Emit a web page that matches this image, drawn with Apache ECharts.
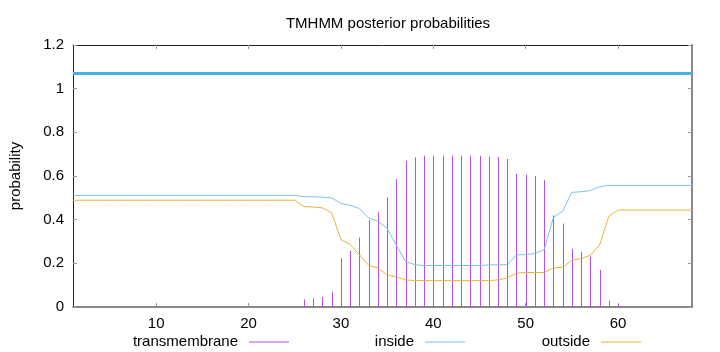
<!DOCTYPE html>
<html>
<head>
<meta charset="utf-8">
<script src="https://cdn.jsdelivr.net/npm/echarts@6/dist/echarts.min.js"></script>
<style>html,body{margin:0;padding:0;background:#fff}#c{width:720px;height:352px}</style>
</head>
<body>
<div id="c"></div>
<script>
// residues 1..68
const residues = [1,2,3,4,5,6,7,8,9,10,11,12,13,14,15,16,17,18,19,20,21,22,23,24,25,26,27,28,29,30,31,32,33,34,35,36,37,38,39,40,41,42,43,44,45,46,47,48,49,50,51,52,53,54,55,56,57,58,59,60,61,62,63,64,65,66,67,68];
const transmembrane = [0,0,0,0,0,0,0,0,0,0,0,0,0,0,0,0,0,0,0,0,0,0,0,0,0,
  0.035,0.04,0.046,0.07,0.223,0.257,0.318,0.40,0.434,0.502,0.586,0.67,0.685,0.693,
  0.693,0.693,0.693,0.693,0.693,0.692,0.688,0.687,0.678,0.61,0.606,0.60,0.581,0.42,
  0.382,0.266,0.252,0.231,0.17,0.028,0.012,0,0,0,0,0,0,0,0];
const inside = [0.511,0.511,0.511,0.511,0.511,0.511,0.511,0.511,0.511,0.511,0.511,0.511,0.511,0.511,0.511,0.511,0.511,0.511,0.511,0.511,0.511,0.511,0.511,0.511,0.511,
  0.505,0.505,0.503,0.500,0.474,0.466,0.451,0.408,0.393,0.36,0.283,0.208,0.194,0.19,
  0.19,0.19,0.19,0.19,0.19,0.19,0.193,0.193,0.194,0.239,0.24,0.245,0.263,0.41,
  0.439,0.525,0.528,0.533,0.551,0.557,0.557,0.557,0.557,0.557,0.557,0.557,0.557,0.557,0.557];
const outside = [0.489,0.489,0.489,0.489,0.489,0.489,0.489,0.489,0.489,0.489,0.489,0.489,0.489,0.489,0.489,0.489,0.489,0.489,0.489,0.489,0.489,0.489,0.489,0.489,0.489,
  0.46,0.458,0.454,0.431,0.309,0.286,0.24,0.191,0.179,0.147,0.138,0.124,0.121,0.121,
  0.121,0.121,0.121,0.121,0.121,0.121,0.121,0.124,0.133,0.155,0.158,0.158,0.158,0.179,
  0.182,0.214,0.222,0.237,0.283,0.416,0.444,0.444,0.444,0.444,0.444,0.444,0.444,0.444,0.444];
const topologyStart = 1, topologyEnd = 68, topologyLevel = 1.07;
const xTicks = [10,20,30,40,50,60];

const font = '"Liberation Sans", Arial, sans-serif';
const FS = 15;
const TM_COLOR = '#b44ee8';
const IN_COLOR = '#78c4ec';
const OUT_COLOR = '#eeb23a';
const pair = (arr) => arr.map((v, i) => [residues[i], v]);

const chart = echarts.init(document.getElementById('c'), null, {renderer: 'canvas'});
const legendBase = {
  orient: 'horizontal', top: 334.5, align: 'right', padding: 0,
  itemWidth: 40, itemHeight: 1, selectedMode: false, inactiveColor: '#ccc',
  textStyle: {fontSize: FS, color: '#000', fontFamily: font, padding: [0, 6, 0, 0]}
};
const legendItem = (name, color) => ({
  name: name,
  icon: 'rect',
  itemStyle: {color: color, borderWidth: 0, opacity: 1},
  lineStyle: {color: color, width: 1, opacity: 1}
});
chart.setOption({
  animation: false,
  backgroundColor: '#fff',
  title: {
    text: 'TMHMM posterior probabilities', left: 383, top: 11, textAlign: 'center',
    textStyle: {fontSize: FS, fontWeight: 'normal', color: '#000', fontFamily: font}
  },
  legend: [
    Object.assign({}, legendBase, {data: [legendItem('transmembrane', TM_COLOR)], right: 431}),
    Object.assign({}, legendBase, {data: [legendItem('inside', IN_COLOR)], right: 255}),
    Object.assign({}, legendBase, {data: [legendItem('outside', OUT_COLOR)], right: 79})
  ],
  grid: {left: 73, right: 28, top: 45, bottom: 45, containLabel: false},
  xAxis: [{
    type: 'value', min: 1, max: 68, position: 'bottom',
    axisLine: {show: true, onZero: false, lineStyle: {color: '#888', width: 2}},
    axisTick: {show: true, inside: true, length: 4, lineStyle: {color: '#999'}, customValues: xTicks},
    axisLabel: {show: true, margin: 9, fontSize: FS, color: '#000', fontFamily: font, customValues: xTicks},
    splitLine: {show: false}
  }, {
    type: 'value', min: 1, max: 68, position: 'top',
    axisLine: {show: true, onZero: false, lineStyle: {color: '#222', width: 1}},
    axisTick: {show: true, inside: true, length: 4, lineStyle: {color: '#999'}, customValues: xTicks},
    axisLabel: {show: false, customValues: xTicks},
    splitLine: {show: false}
  }],
  yAxis: [{
    type: 'value', min: 0, max: 1.2, interval: 0.2, position: 'left',
    name: 'probability', nameLocation: 'middle', nameGap: 50, nameRotate: 90,
    nameTextStyle: {fontSize: FS, color: '#000', fontFamily: font},
    axisLine: {show: true, onZero: false, lineStyle: {color: '#222', width: 1}},
    axisTick: {show: true, inside: true, length: 4, lineStyle: {color: '#999'}},
    axisLabel: {show: true, margin: 9, fontSize: FS, color: '#000', fontFamily: font},
    splitLine: {show: false}
  }, {
    type: 'value', min: 0, max: 1.2, interval: 0.2, position: 'right',
    axisLine: {show: true, onZero: false, lineStyle: {color: '#888', width: 2}},
    axisTick: {show: true, inside: true, length: 4, lineStyle: {color: '#999'}},
    axisLabel: {show: false},
    splitLine: {show: false}
  }],
  series: [
    {
      name: 'transmembrane', type: 'custom', xAxisIndex: 0, yAxisIndex: 0,
      itemStyle: {color: TM_COLOR},
      renderItem: function (params, api) {
        const v = api.value(1);
        if (!v) return null;
        const p0 = api.coord([api.value(0), 0]);
        const p1 = api.coord([api.value(0), v]);
        const x = Math.round(p0[0]) + 0.5;
        return {
          type: 'line',
          shape: {x1: x, y1: p0[1], x2: x, y2: p1[1]},
          style: {stroke: TM_COLOR, lineWidth: 1}
        };
      },
      encode: {x: 0, y: 1},
      data: pair(transmembrane), z: 2
    },
    {
      name: 'inside', type: 'line', xAxisIndex: 0, yAxisIndex: 0,
      showSymbol: false, symbol: 'none',
      lineStyle: {color: IN_COLOR, width: 1}, itemStyle: {color: IN_COLOR},
      data: pair(inside), z: 3
    },
    {
      name: 'outside', type: 'line', xAxisIndex: 0, yAxisIndex: 0,
      showSymbol: false, symbol: 'none',
      lineStyle: {color: OUT_COLOR, width: 1}, itemStyle: {color: OUT_COLOR},
      data: pair(outside), z: 3
    },
    {
      name: 'topology', type: 'line', xAxisIndex: 0, yAxisIndex: 0,
      showSymbol: false, symbol: 'none',
      lineStyle: {color: '#4aaee3', width: 3},
      data: [[topologyStart, topologyLevel], [topologyEnd, topologyLevel]], z: 3
    }
  ]
});
</script>
</body>
</html>
